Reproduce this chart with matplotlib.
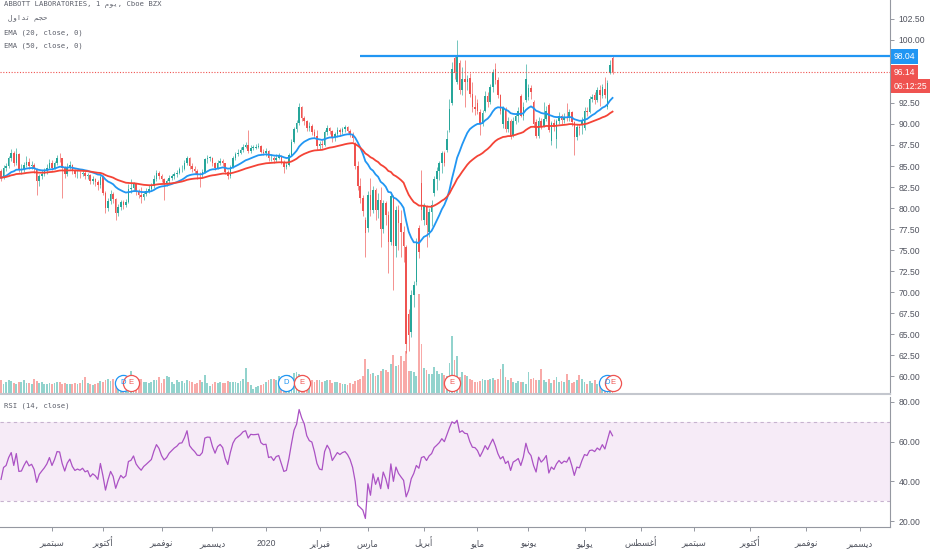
import numpy as np
import pandas as pd
import matplotlib
matplotlib.use('Agg')
import matplotlib.pyplot as plt

# ABT daily candles, 2019-08-05 .. 2020-07-17
closes = [
    # Aug 2019
    83.6, 84.8, 85.0, 85.9, 86.5, 85.3, 86.4, 84.6, 84.6, 85.1, 85.5, 85.0, 85.1, 84.6, 83.2, 83.8, 84.1, 84.4, 84.8, 85.4,
    # Sep
    84.8, 85.3, 86.0, 85.9, 84.8, 84.0, 84.8, 85.1, 84.4, 84.0, 84.1, 84.0, 84.2, 83.8, 83.9, 83.2, 83.4, 83.1, 82.7, 83.7,
    # Oct
    81.8, 80.0, 80.8, 81.7, 81.1, 79.4, 80.1, 80.7, 80.4, 80.7, 82.3, 82.4, 82.8, 82.0, 81.6, 81.3, 81.7, 82.0, 82.3, 82.6, 83.5, 84.2, 83.8,
    # Nov
    83.4, 83.0, 83.2, 83.6, 83.8, 84.0, 84.2, 84.6, 84.7, 85.4, 86.0, 85.0, 84.7, 84.4, 84.0, 83.9, 84.3, 85.8, 86.0, 86.0,
    # Dec
    85.3, 84.8, 85.4, 85.6, 85.3, 84.3, 83.8, 84.9, 85.9, 86.4, 86.6, 86.9, 87.3, 87.5, 86.8, 87.2, 87.2, 87.3, 87.4, 86.7, 86.6,
    # Jan 2020
    86.8, 85.9, 86.0, 85.7, 86.0, 86.2, 85.5, 84.9, 85.1, 86.3, 87.9, 89.4, 90.1, 92.0, 90.7, 90.3, 89.5, 89.8, 89.0, 88.6, 87.4,
    # Feb
    87.6, 87.5, 89.0, 89.5, 89.2, 88.3, 88.8, 89.3, 89.0, 89.4, 89.6, 89.2, 88.8, 88.3, 85.0, 82.6, 81.2, 79.6, 77.0,
    # Mar
    81.6, 79.8, 82.2, 79.8, 81.0, 77.5, 80.6, 79.2, 76.0, 81.4, 75.5, 79.8, 78.2, 77.2, 75.5, 63.8, 64.9, 69.6, 70.8, 75.9, 74.8, 79.8,
    # Apr
    80.2, 78.0, 79.5, 80.3, 83.4, 84.4, 85.3, 86.5, 85.4, 88.2, 91.8, 96.6, 96.1, 98.0, 94.0, 95.4, 95.0, 95.3, 93.6, 92.0, 91.8,
    # May
    91.6, 90.0, 91.3, 93.3, 92.6, 94.4, 96.2, 95.2, 93.4, 91.6, 91.9, 89.4, 90.3, 88.6, 90.4, 90.9, 91.6, 91.0, 92.0, 95.4,
    # Jun
    94.3, 93.8, 90.0, 88.6, 90.4, 89.8, 90.6, 91.5, 89.3, 90.1, 89.7, 90.4, 90.9, 90.5, 90.8, 90.7, 91.4, 90.2, 88.5, 89.6, 89.5, 90.5,
    # Jul
    91.6, 91.4, 93.0, 93.2, 92.8, 94.0, 93.5, 94.4, 93.4, 94.9, 97.0, 96.14,
]

highs = [
    84.7, 85.1, 85.4, 86.2, 87.0, 86.8, 87.2, 86.5, 85.2, 85.5, 86.2, 85.9, 85.6, 85.3, 84.8, 84.1, 84.5, 84.8, 85.2, 85.8,
    85.7, 85.6, 86.3, 86.6, 86.0, 85.0, 85.4, 85.6, 85.2, 84.6, 84.5, 84.4, 84.6, 84.4, 84.2, 84.0, 83.8, 83.6, 83.3, 83.9,
    83.9, 82.0, 81.2, 82.1, 81.9, 81.2, 80.5, 81.0, 80.9, 81.1, 82.9, 83.4, 83.1, 82.9, 82.3, 82.5, 82.0, 82.4, 82.7, 83.0, 83.9, 84.5, 84.4,
    84.0, 83.6, 83.5, 83.9, 84.1, 84.3, 84.5, 84.9, 85.1, 85.7, 86.2, 86.1, 85.3, 85.0, 84.6, 84.3, 84.6, 86.0, 86.3, 86.2,
    86.1, 85.5, 85.7, 85.9, 85.8, 85.4, 84.5, 85.1, 86.2, 86.7, 87.0, 87.3, 87.6, 87.8, 89.3, 87.5, 87.5, 87.6, 87.7, 87.5, 87.0,
    87.1, 86.9, 86.4, 86.2, 86.4, 86.6, 86.3, 85.7, 85.5, 86.6, 88.2, 89.6, 90.5, 92.5, 92.1, 91.0, 90.5, 90.2, 90.0, 89.4, 89.3,
    88.0, 88.1, 89.3, 89.9, 89.7, 89.3, 89.1, 89.6, 89.5, 89.7, 89.9, 89.8, 89.4, 89.0, 87.8, 85.6, 83.6, 81.6, 78.9,
    82.0, 83.6, 82.6, 82.4, 81.8, 82.5, 81.0, 80.8, 79.6, 81.9, 81.6, 80.2, 80.3, 79.8, 77.8, 75.6, 68.0, 70.2, 71.3, 76.4, 78.0, 84.5,
    80.6, 80.4, 80.0, 80.9, 83.8, 84.9, 85.6, 86.8, 86.8, 89.3, 93.0, 97.4, 98.2, 100.0, 97.6, 96.8, 97.6, 95.8, 96.1, 95.0, 93.5,
    93.0, 91.8, 91.7, 93.9, 93.8, 94.8, 96.6, 97.3, 95.6, 93.6, 92.2, 92.0, 90.8, 90.6, 90.8, 91.3, 92.0, 93.6, 92.6, 97.2,
    94.8, 94.6, 92.8, 90.6, 90.8, 90.7, 92.6, 92.2, 92.5, 90.4, 90.6, 90.6, 91.4, 91.2, 91.3, 92.5, 91.8, 91.6, 90.4, 90.0, 90.0, 90.8,
    92.0, 92.0, 93.3, 93.6, 93.8, 94.4, 94.6, 94.8, 95.6, 95.2, 97.6, 98.1,
]

lows = [
    83.2, 83.4, 84.4, 84.8, 85.6, 85.0, 85.1, 84.3, 84.1, 84.3, 84.9, 84.7, 84.6, 84.2, 81.5, 82.6, 83.4, 83.8, 84.1, 84.6,
    84.5, 84.6, 85.1, 85.5, 81.2, 83.6, 83.8, 84.6, 84.1, 83.7, 83.6, 83.6, 83.8, 83.4, 83.4, 82.8, 82.9, 82.6, 82.2, 82.4,
    81.5, 79.4, 79.6, 80.5, 80.6, 78.6, 79.1, 79.8, 79.9, 80.1, 80.6, 81.8, 82.0, 81.6, 81.2, 80.6, 81.0, 81.4, 81.8, 82.0, 82.4, 83.2, 83.4,
    83.1, 81.0, 82.6, 82.9, 83.3, 83.5, 83.7, 84.0, 84.3, 84.5, 85.1, 84.7, 84.3, 84.0, 83.5, 82.5, 83.7, 84.2, 85.4, 85.6,
    85.0, 84.5, 84.6, 85.1, 85.0, 84.0, 83.5, 83.6, 84.8, 85.7, 86.2, 86.4, 86.7, 87.1, 86.6, 86.6, 86.9, 87.0, 87.1, 86.5, 86.3,
    86.2, 85.6, 85.6, 85.4, 85.5, 85.8, 85.2, 84.2, 84.6, 85.0, 86.2, 87.7, 89.1, 89.9, 90.4, 89.9, 89.2, 89.2, 88.7, 88.3, 86.9,
    87.0, 87.1, 87.4, 88.7, 88.8, 87.9, 88.0, 88.5, 88.6, 88.8, 89.1, 88.9, 88.5, 87.9, 84.6, 82.2, 80.6, 79.0, 74.2,
    77.2, 79.0, 79.4, 78.6, 78.8, 75.4, 77.0, 78.0, 72.3, 75.6, 70.2, 74.2, 75.0, 74.2, 73.6, 62.7, 63.0, 64.6, 68.2, 70.8, 74.0, 78.6,
    78.0, 75.4, 76.5, 77.8, 81.4, 82.1, 83.3, 84.2, 85.0, 86.7, 89.0, 92.3, 95.4, 94.8, 93.6, 93.5, 92.0, 94.0, 93.2, 91.4, 91.1,
    91.2, 88.7, 89.8, 91.4, 92.0, 92.4, 93.8, 94.8, 93.1, 91.2, 89.5, 89.0, 89.1, 88.2, 88.4, 90.0, 90.2, 90.8, 90.5, 92.6,
    92.9, 93.0, 89.6, 88.3, 88.3, 89.4, 89.6, 90.3, 89.0, 87.5, 89.2, 87.1, 90.0, 90.0, 90.1, 90.3, 90.4, 89.8, 86.3, 88.1, 88.7, 88.8,
    89.3, 91.0, 91.3, 92.6, 92.4, 92.6, 92.1, 93.1, 93.1, 91.8, 95.9, 95.9,
]

# bars that opened away from the previous close (bar index -> open)
gap_opens = {0: 84.4, 139: 87.6, 143: 78.6, 144: 77.6, 159: 75.3, 160: 67.4, 161: 65.2, 163: 71.2,
             164: 77.6, 165: 83.0, 166: 78.6, 168: 77.2, 170: 81.8, 175: 86.9, 176: 89.3, 177: 92.5,
             178: 97.9, 179: 95.0, 180: 97.3, 184: 95.5, 187: 92.5, 188: 91.4, 190: 91.6, 194: 96.6,
             197: 90.0, 198: 91.8, 200: 90.4, 204: 93.3, 206: 92.9, 207: 93.2, 209: 92.6, 210: 90.2,
             215: 92.3, 216: 88.0, 218: 88.2, 228: 89.9, 229: 89.5, 233: 93.5, 236: 93.3, 237: 94.2,
             238: 92.0, 239: 96.1, 240: 97.9}

# volume, millions of shares
volumes = [
    4.5, 3.2, 4.0, 4.5, 4.2, 3.6, 3.4, 3.8, 4.0, 4.6, 3.5, 3.7, 3.2, 4.9, 4.2, 3.6, 3.8, 3.3, 3.4, 3.6,
    3.2, 3.6, 3.9, 4.0, 3.4, 3.6, 3.1, 3.4, 3.3, 3.5, 3.2, 3.7, 4.5, 5.4, 3.6, 3.2, 3.0, 3.3, 3.6, 4.2,
    4.0, 4.6, 5.0, 4.2, 4.8, 3.8, 3.5, 3.9, 4.6, 4.0, 4.9, 7.6, 5.8, 4.4, 4.8, 4.9, 4.0, 3.8, 3.5, 4.0, 4.4, 4.6, 5.4,
    3.6, 5.0, 6.0, 5.6, 3.8, 3.4, 4.4, 3.9, 4.2, 3.5, 4.6, 4.3, 4.0, 3.4, 3.6, 4.5, 4.0, 6.3, 3.6, 2.6,
    3.4, 3.8, 3.6, 4.0, 3.5, 3.7, 4.2, 3.9, 3.8, 4.0, 3.6, 4.1, 4.9, 8.4, 3.8, 2.8, 1.6, 2.2, 2.6, 3.0, 3.3,
    4.0, 4.4, 4.8, 5.0, 4.6, 5.8, 5.2, 5.6, 4.8, 6.2, 5.4, 6.8, 7.0, 6.6, 5.0, 4.8, 4.4, 4.2, 4.6, 4.0, 4.4,
    4.4, 4.0, 4.2, 4.6, 4.4, 3.6, 3.8, 4.0, 3.5, 3.2, 3.3, 3.0, 3.6, 3.4, 4.2, 4.6, 5.0, 5.8, 11.4,
    8.0, 6.4, 6.8, 6.0, 6.2, 7.4, 8.2, 7.8, 7.2, 9.6, 12.6, 9.2, 9.4, 12.2, 10.8, 14.0, 7.4, 7.6, 7.2, 6.0, 32.6, 16.4,
    8.4, 7.8, 6.6, 6.4, 8.8, 7.4, 6.4, 6.8, 6.2, 6.0, 10.0, 19.0, 11.0, 12.4, 5.6, 7.2, 6.2, 5.8, 4.8, 4.4, 4.0,
    3.8, 4.2, 5.0, 4.6, 4.4, 4.8, 5.2, 4.6, 5.0, 8.0, 9.6, 5.6, 4.6, 5.2, 4.0, 3.6, 4.2, 3.8, 4.0, 3.4,
    7.0, 4.8, 5.2, 4.4, 4.6, 8.0, 4.4, 4.0, 5.0, 3.6, 4.4, 5.6, 3.8, 4.2, 3.9, 6.6, 4.5, 3.6, 4.0, 4.6, 6.3, 4.8,
    3.8, 3.2, 4.2, 3.6, 4.4, 3.4, 4.0, 3.6, 4.6, 5.2, 4.8, 4.4,
]

# RSI(14) as drawn in the lower pane
rsi = [
    41, 47, 48, 52, 54.5, 48, 54, 45, 45.2, 48, 50.3, 47.8, 48.6, 46, 39.5, 43.5, 45.2, 46.8, 48.8, 52,
    48, 51, 55, 54.8, 49, 45.2, 49.2, 51.2, 47.5, 45.5, 46.2, 45.6, 46.6, 44.8, 45.4, 42.3, 43.8, 42.8, 41, 49,
    42.8, 35.6, 40.8, 45, 42.5, 36.5, 40.2, 43, 41.7, 42.8, 50, 50.6, 52.8, 48.8, 47, 45.6, 47.5, 48.6, 49.8, 51, 55.2, 58.5, 56.6,
    53, 50.8, 52, 54.2, 55.5, 56.8, 57.7, 59.2, 59.4, 62, 65.5, 58, 56.3, 55, 53.2, 53, 54.5, 61.8, 62.3, 62.2,
    57.5, 54.2, 57.5, 58.6, 57, 51.5, 48.5, 54.5, 59.2, 61.5, 62.5, 63.5, 65, 65.5, 61.8, 63.7, 63.5, 63.6, 63.8, 59.5, 58.5,
    58.7, 52, 52.4, 50.5, 52.5, 53, 49, 45, 45.5, 51.5, 59, 65.8, 68.8, 76.2, 72, 69, 63, 60.5, 59.8, 55, 49,
    46.2, 45.8, 55, 58.2, 56, 50.5, 52.5, 54.5, 53.5, 54.5, 55, 53.5, 51, 47, 40, 28, 26.8, 25.5, 21.3,
    38.8, 33, 43.8, 38.5, 42, 36.3, 44.7, 41.3, 36.3, 48.8, 40, 47.2, 44, 42.2, 40.5, 32.2, 35.5, 41.3, 44, 48, 46.6, 52,
    52.5, 50.5, 52.8, 54, 57, 58.2, 59.5, 61.5, 60, 63.5, 67, 70, 69.2, 70.8, 64.7, 65.5, 64.2, 64, 60, 57.2, 57,
    55.5, 52.5, 55, 58, 56, 58.8, 61.3, 58, 54, 51.3, 52.5, 49, 50.2, 45.5, 49.7, 50.5, 51.5, 48, 52.2, 59.2,
    54.7, 53, 48, 44.7, 52.2, 49.7, 51, 53, 44.2, 47.2, 46, 48.8, 50.5, 49, 50.2, 49.7, 52.2, 48, 43, 47.2, 46.8, 50.5,
    53.5, 53, 55.5, 55.8, 55, 56.8, 55.8, 58.5, 56.3, 60.8, 65.5, 63,
]

dividend_bars = [48, 112, 238]
earnings_bars = [51, 118, 177, 240]
ray_level = 98.04
ray_start = 141
countdown = '06:12:25'
price_ticks = [60.0, 62.5, 65.0, 67.5, 70.0, 72.5, 75.0, 77.5, 80.0, 82.5, 85.0, 87.5, 90.0, 92.5, 100.0, 102.5]
rsi_ticks = [20, 40, 60, 80]
holidays = ['2019-09-02', '2019-11-28', '2019-12-25', '2020-01-01', '2020-01-20',
            '2020-02-17', '2020-04-10', '2020-05-25', '2020-07-03']
month_names = {1: 'يناير', 2: 'فبراير', 3: 'مارس', 4: 'أبريل', 5: 'مايو', 6: 'يونيو',
               7: 'يوليو', 8: 'أغسطس', 9: 'سبتمبر', 10: 'أكتوبر', 11: 'نوفمبر', 12: 'ديسمبر'}

# matplotlib has no arabic shaping: pick presentation forms by hand, then reverse
AR = {
    'ا': ('\ufe8d', '\ufe8e', None, None), 'أ': ('\ufe83', '\ufe84', None, None),
    'ب': ('\ufe8f', '\ufe90', '\ufe91', '\ufe92'), 'ت': ('\ufe95', '\ufe96', '\ufe97', '\ufe98'),
    'ج': ('\ufe9d', '\ufe9e', '\ufe9f', '\ufea0'), 'ح': ('\ufea1', '\ufea2', '\ufea3', '\ufea4'),
    'د': ('\ufea9', '\ufeaa', None, None), 'ر': ('\ufead', '\ufeae', None, None),
    'س': ('\ufeb1', '\ufeb2', '\ufeb3', '\ufeb4'), 'ط': ('\ufec1', '\ufec2', '\ufec3', '\ufec4'),
    'غ': ('\ufecd', '\ufece', '\ufecf', '\ufed0'), 'ف': ('\ufed1', '\ufed2', '\ufed3', '\ufed4'),
    'ك': ('\ufed9', '\ufeda', '\ufedb', '\ufedc'), 'ل': ('\ufedd', '\ufede', '\ufedf', '\ufee0'),
    'م': ('\ufee1', '\ufee2', '\ufee3', '\ufee4'), 'ن': ('\ufee5', '\ufee6', '\ufee7', '\ufee8'),
    'و': ('\ufeed', '\ufeee', None, None), 'ي': ('\ufef1', '\ufef2', '\ufef3', '\ufef4'),
}

def ar(word):
    out = []
    for k, ch in enumerate(word):
        if ch not in AR:
            out.append(ch)
            continue
        iso, fin, ini, med = AR[ch]
        prev = word[k - 1] if k > 0 else None
        nxt = word[k + 1] if k + 1 < len(word) else None
        jp = prev in AR and AR[prev][2] is not None
        jn = ini is not None and nxt in AR
        out.append(med if (jp and jn) else fin if jp else ini if jn else iso)
    return ''.join(reversed(out))

UP, DOWN = '#26a69a', '#ef5350'
GREY = '#50535e'
mono = ['DejaVu Sans Mono', 'DejaVu Sans']
axfont = ['Liberation Sans', 'DejaVu Sans']

c = np.array(closes)
o = np.array([gap_opens.get(k, closes[k - 1] if k else closes[0]) for k in range(len(closes))])
h = np.array(highs)
l = np.array(lows)
x = np.arange(len(c))
up = c >= o

ema20 = pd.Series(c).ewm(span=20, adjust=False).mean()
ema50 = pd.Series(c).ewm(span=50, adjust=False).mean()

dates = pd.bdate_range('2019-08-05', '2020-07-17', freq='C', holidays=holidays)
future = pd.bdate_range('2020-07-20', '2021-01-29')
alld = dates.append(future)
mid = np.asarray(alld.year * 12 + alld.month)
starts = np.flatnonzero(np.r_[False, mid[1:] != mid[:-1]])
xmax = 348.9
starts = starts[starts < xmax]
tick_labels = [str(alld[s].year) if alld[s].month == 1 else ar(month_names[alld[s].month]) for s in starts]

fig = plt.figure(figsize=(9.32, 5.5), dpi=100)
W = 890 / 932
ax = fig.add_axes([0, 1 - 394 / 550, W, 394 / 550])
axr = fig.add_axes([0, 23 / 550, W, 130 / 550])

# volume behind the candles
axv = ax.twinx()
ax.set_zorder(axv.get_zorder() + 1)
ax.patch.set_visible(False)
vcol = np.where(up, '#92d3cd', '#f8aaa8')
axv.bar(x, volumes, width=0.72, color=vcol, linewidth=0)
axv.set_ylim(0, 128)
axv.set_yticks([])
for s in axv.spines.values():
    s.set_visible(False)

# candles
col = np.where(up, UP, DOWN)
ax.vlines(x, l, h, colors=col, linewidth=0.6, alpha=0.75)
ax.bar(x, np.maximum(np.abs(c - o), 0.08), bottom=np.minimum(o, c), width=0.62, color=col, linewidth=0)

ax.plot(x, ema20, color='#2196f3', lw=1.3)
ax.plot(x, ema50, color='#f44336', lw=1.3)
ax.hlines(ray_level, ray_start, xmax, color='#2196f3', lw=1.6)
ax.axhline(c[-1], color='#ef5350', lw=0.8, ls=(0, (1, 1.5)))

# dividend / earnings markers on the bottom of the price pane
xt = ax.get_xaxis_transform()
for bars, letter, colr in [(dividend_bars, 'D', '#2196f3'), (earnings_bars, 'E', '#ef5350')]:
    for b in bars:
        ax.scatter([b], [0.028], s=135, facecolor='white', edgecolor=colr, lw=0.9, transform=xt, zorder=5, clip_on=False)
        ax.text(b, 0.028, letter, transform=xt, ha='center', va='center', fontsize=5.5, color=colr, zorder=6,
                family=axfont)

ax.set_xlim(-0.4, xmax)
ax.set_ylim(57.86, 104.76)
ax.yaxis.tick_right()
ax.set_yticks(price_ticks)
ax.set_yticklabels([f'{v:.2f}' for v in price_ticks], family=axfont, fontsize=6.2, color=GREY)
ax.tick_params(axis='y', length=3, width=0.7, color='#9598a1', pad=3)
ax.set_xticks([])
for k in ['top', 'left']:
    ax.spines[k].set_visible(False)
ax.spines['right'].set_color('#9598a1')
ax.spines['bottom'].set_color('#c4c7ce')
ax.spines['bottom'].set_linewidth(1.5)

yt = ax.get_yaxis_transform()
ax.text(1.004, ray_level, f'{ray_level:.2f}', transform=yt, ha='left', va='center', fontsize=6.2, color='white',
        family=axfont, bbox=dict(boxstyle='square,pad=0.3', fc='#2196f3', ec='none'), zorder=7, clip_on=False)
ax.text(1.004, c[-1], f'{c[-1]:.2f}', transform=yt, ha='left', va='center', fontsize=6.2, color='white',
        family=axfont, bbox=dict(boxstyle='square,pad=0.3', fc='#ef5350', ec='none'), zorder=7, clip_on=False)
ax.annotate(countdown, (1.004, c[-1]), xycoords=yt, xytext=(0, -10), textcoords='offset points',
            ha='left', va='center', fontsize=6.2, color='white', family=axfont,
            bbox=dict(boxstyle='square,pad=0.3', fc='#ef5350', ec='none'), zorder=7, annotation_clip=False)

ax.text(0.005, 0.988, 'ABBOTT LABORATORIES, 1 ' + ar('يوم') + ', Cboe BZX', transform=ax.transAxes,
        ha='left', va='center', fontsize=5.2, color='#5d606b', family=mono)
ax.text(0.009, 0.955, ar('حجم تداول'), transform=ax.transAxes, ha='left', va='center', fontsize=5.2,
        color='#5d606b', family=mono)
ax.text(0.005, 0.917, 'EMA (20, close, 0)', transform=ax.transAxes, ha='left', va='center', fontsize=5.2,
        color='#5d606b', family=mono)
ax.text(0.005, 0.884, 'EMA (50, close, 0)', transform=ax.transAxes, ha='left', va='center', fontsize=5.2,
        color='#5d606b', family=mono)

# RSI pane
axr.axhspan(30, 70, color='#9c27b0', alpha=0.09, lw=0)
for lev in (70, 30):
    axr.axhline(lev, color='#c7b3cf', lw=0.8, ls=(0, (3, 3)))
axr.plot(x, rsi, color='#ab52c4', lw=0.9)
axr.set_xlim(-0.4, xmax)
axr.set_ylim(17, 82.5)
axr.yaxis.tick_right()
axr.set_yticks(rsi_ticks)
axr.set_yticklabels([f'{v:.2f}' for v in rsi_ticks], family=axfont, fontsize=6.2, color=GREY)
axr.tick_params(axis='y', length=3, width=0.7, color='#9598a1', pad=3)
axr.set_xticks(starts)
axr.set_xticklabels(tick_labels, family=axfont, fontsize=6.2, color=GREY)
axr.tick_params(axis='x', length=3, width=0.7, color='#9598a1', pad=11)
for t in axr.get_xticklabels():
    t.set_verticalalignment('baseline')
for k in ['top', 'left']:
    axr.spines[k].set_visible(False)
axr.spines['right'].set_color('#9598a1')
axr.spines['bottom'].set_color('#9598a1')
axr.text(0.005, 0.93, 'RSI (14, close)', transform=axr.transAxes, ha='left', va='center', fontsize=5.2,
         color='#5d606b', family=mono)

fig.savefig('out.png', dpi=100, facecolor='white')
